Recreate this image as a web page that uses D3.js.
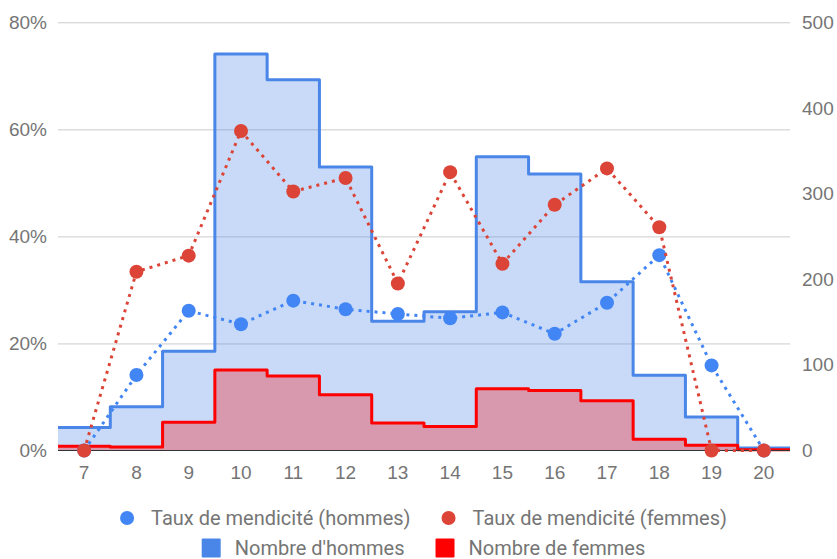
<!DOCTYPE html>
<html>
<head>
<meta charset="utf-8">
<script src="https://cdn.jsdelivr.net/npm/d3@7"></script>
<style>
body { margin:0; background:#fff; }
svg { display:block; font-family:Roboto, "Noto Sans", sans-serif; }
.tick text { fill:#757575; font-size:19px; }
.legend text { fill:#757575; font-size:20px; }
</style>
</head>
<body>
<svg></svg>
<script>
// ages (x categories)
var ages = [7,8,9,10,11,12,13,14,15,16,17,18,19,20]
// taux de mendicite, en %
var tauxHommes = [0,14.1,26.1,23.6,28.0,26.4,25.5,24.7,25.8,21.8,27.6,36.5,15.9,0]
var tauxFemmes = [0,33.4,36.4,59.7,48.4,50.9,31.2,52.0,34.9,45.9,52.7,41.7,0,0]
// nombres (axe de droite)
var nbHommes = [27,51,116,463,433,331,151,162,343,323,197,88,39,3]
var nbFemmes = [5,4,33,94,87,65,32,28,72,70,58,13,6,1]
// tick labels
var pctTicks = [0,20,40,60,80]
var nbTicks = [0,100,200,300,400,500]
var legendRows = [
  [{name:"Taux de mendicité (hommes)",color:"#4285f4",shape:"circle"},
   {name:"Taux de mendicité (femmes)",color:"#db4437",shape:"circle"}],
  [{name:"Nombre d'hommes",color:"#4a86e8",shape:"square"},
   {name:"Nombre de femmes",color:"#ff0000",shape:"square"}]
]

var screen = {width:837,height:559}
var plot = {left:58,right:790,top:22.3,bottom:450.5}

var svg = d3.select("svg")
  .attr("width",screen.width)
  .attr("height",screen.height)

var xScale = d3.scaleBand()
  .domain(ages)
  .range([plot.left,plot.right])
  .padding(0)

var yPct = d3.scaleLinear()
  .domain([0,80])
  .range([plot.bottom,plot.top])

var yNb = d3.scaleLinear()
  .domain([0,500])
  .range([plot.bottom,plot.top])

var mid = function(a){ return xScale(a)+xScale.bandwidth()/2 }

var drawGrid = function()
{
  var grid = svg.append("g")
    .attr("transform","translate("+plot.left+",0)")
    .call(d3.axisLeft(yPct).tickValues(pctTicks.slice(1))
      .tickSize(-(plot.right-plot.left)).tickFormat(""))
  grid.select(".domain").remove()
  grid.selectAll("line").attr("stroke","#cccccc")
}

var drawSteps = function(values,color)
{
  var pts = ages.map(function(a,i){ return {x:xScale(a),v:values[i]} })
  pts.push({x:xScale.range()[1],v:values[values.length-1]})

  svg.append("path")
    .datum(pts)
    .attr("fill",color)
    .attr("fill-opacity",0.3)
    .attr("d",d3.area().curve(d3.curveStepAfter)
      .x(function(d){ return d.x })
      .y0(yNb(0))
      .y1(function(d){ return yNb(d.v) }))

  svg.append("path")
    .datum(pts)
    .attr("fill","none")
    .attr("stroke",color)
    .attr("stroke-width",3)
    .attr("stroke-linejoin","round")
    .attr("d",d3.line().curve(d3.curveStepAfter)
      .x(function(d){ return d.x })
      .y(function(d){ return yNb(d.v) }))
}

var drawRate = function(values,color)
{
  svg.append("path")
    .datum(values)
    .attr("fill","none")
    .attr("stroke",color)
    .attr("stroke-width",3)
    .attr("stroke-dasharray","3,5")
    .attr("d",d3.line()
      .x(function(d,i){ return mid(ages[i]) })
      .y(function(d){ return yPct(d) }))

  svg.append("g")
    .selectAll("circle")
    .data(values)
    .enter()
    .append("circle")
    .attr("cx",function(d,i){ return mid(ages[i]) })
    .attr("cy",function(d){ return yPct(d) })
    .attr("r",7)
    .attr("fill",color)
}

var drawAxes = function()
{
  svg.append("line")
    .attr("x1",plot.left).attr("x2",plot.right)
    .attr("y1",plot.bottom).attr("y2",plot.bottom)
    .attr("stroke","#333333")

  var left = svg.append("g")
    .attr("transform","translate("+plot.left+",0)")
    .call(d3.axisLeft(yPct).tickValues(pctTicks).tickSize(0).tickPadding(11)
      .tickFormat(function(d){ return d+"%" }))
  left.select(".domain").remove()

  var right = svg.append("g")
    .attr("transform","translate("+plot.right+",0)")
    .call(d3.axisRight(yNb).tickValues(nbTicks).tickSize(0).tickPadding(12))
  right.select(".domain").remove()

  var bottom = svg.append("g")
    .attr("transform","translate(0,"+plot.bottom+")")
    .call(d3.axisBottom(xScale).tickSize(0).tickPadding(15))
  bottom.select(".domain").remove()

  svg.selectAll(".tick text").attr("font-family",null).attr("font-size",null)
}

var drawLegend = function()
{
  var legend = svg.append("g").classed("legend",true)
  var rowY = [518,548]
  var center = 423.5
  legendRows.forEach(function(row,r)
  {
    var g = legend.append("g")
    var x = 0
    row.forEach(function(item,k)
    {
      var sw = item.shape=="circle" ? 14 : 19
      var gap = item.shape=="circle" ? 17 : 14
      if(item.shape=="circle")
      {
        g.append("circle").attr("cx",x+7).attr("cy",rowY[r]).attr("r",7).attr("fill",item.color)
      }
      else
      {
        g.append("rect").attr("x",x).attr("y",rowY[r]-9.5).attr("width",19).attr("height",19)
          .attr("rx",1).attr("fill",item.color)
      }
      var t = g.append("text").attr("x",x+sw+gap).attr("y",rowY[r]).attr("dy","0.35em").text(item.name)
      x += sw+gap+t.node().getComputedTextLength()
      if(k<row.length-1) x += 31
    })
    g.attr("transform","translate("+(center-x/2)+",0)")
  })
}

drawGrid()
drawSteps(nbHommes,"#4a86e8")
drawSteps(nbFemmes,"#ff0000")
drawAxes()
drawRate(tauxHommes,"#4285f4")
drawRate(tauxFemmes,"#db4437")
drawLegend()
</script>
</body>
</html>
